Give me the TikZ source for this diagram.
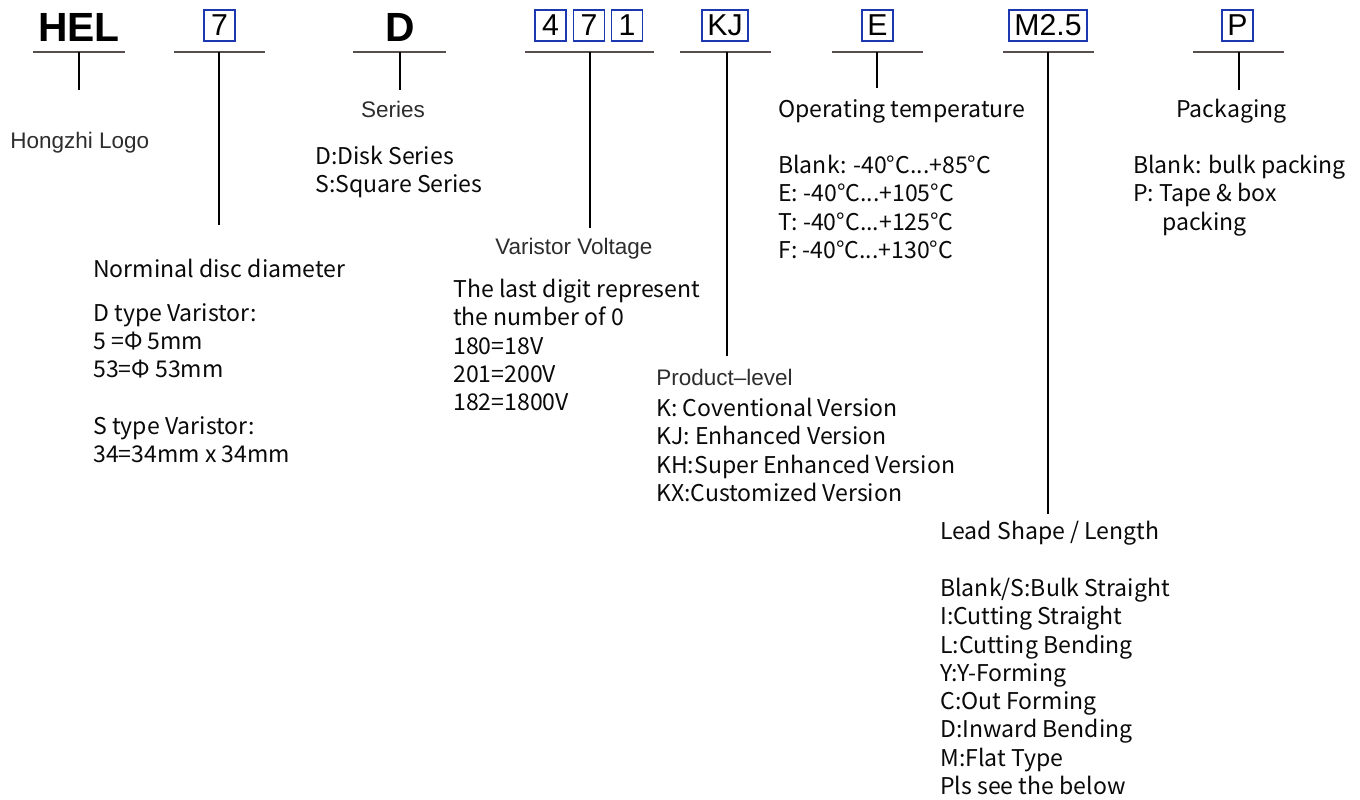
\documentclass[tikz,border=0pt]{standalone}
\usepackage{fontspec}
\setmainfont{Noto Sans CJK SC}
\newfontfamily\arialfont{Liberation Sans}
\usetikzlibrary{positioning}
\definecolor{cBox} {RGB}{28,56,176}
\definecolor{cRule}{RGB}{88,78,78}
\definecolor{cHead}{RGB}{45,45,45}
\definecolor{cBody}{RGB}{10,10,10}

\begin{document}
\begin{tikzpicture}[x=0.025cm, y=-0.025cm]

%% ── shared styles ─────────────────────────────────────────────────────────
\tikzset{
  code/.style={
    inner sep=0pt, font=\arialfont\fontsize{29}{32}\selectfont\bfseries
  },
  digit/.style={
    rectangle, draw=cBox, line width=1.35pt,
    minimum width=22pt, minimum height=22pt,
    inner sep=0pt, inner xsep=4pt,
    font=\arialfont\fontsize{21.5}{24}\selectfont
  },
  rule/.style={cRule, line width=1.4pt},
  stem/.style={black, line width=0.9pt},
  head/.style={inner sep=0pt, text=cHead, font=\arialfont\fontsize{16}{19}\selectfont},
  body/.style={inner sep=0pt, text=cBody, align=left, font=\fontsize{16.4}{20.1}\selectfont},
}

\fill[white] (0,0) rectangle (1360,800);
\useasboundingbox (0,0) rectangle (1360,800);

%% ── underline / stem grid ─────────────────────────────────────────────────
%  underline   y = 52
%  stems run down from the underline to the heading of each group
\def\uy{52}

%% ══════════════════════════════════════════════════════════════════════════
%% HEL  –  logo
%% ══════════════════════════════════════════════════════════════════════════
\node[code]                 (cHEL) at (79,27)   {HEL};
\coordinate (uHEL-l) at (33,\uy);  \coordinate (uHEL-r) at (125,\uy);
\coordinate (uHEL)   at (79,\uy);  \coordinate (sHEL)   at (79,90);
\node[head, anchor=north west] (tLogo) at (10,132) {Hongzhi Logo};

\draw[rule] (uHEL-l)--(uHEL-r);
\draw[stem] (uHEL)--(sHEL);

%% ══════════════════════════════════════════════════════════════════════════
%% 7  –  disc diameter
%% ══════════════════════════════════════════════════════════════════════════
\node[digit]                (cDia) at (219.5,25.5) {7};
\coordinate (uDia-l) at (174,\uy); \coordinate (uDia-r) at (265,\uy);
\coordinate (uDia)   at (219,\uy); \coordinate (sDia)   at (219,225);
\node[body, anchor=north west] (tDia) at (93,259) {Norminal disc diameter};
\node[body, anchor=north west] (bDia) at (93,303)
  {D type Varistor:\\5 =Φ 5mm\\53=Φ 53mm\\[20.1pt]S type Varistor:\\34=34mm x 34mm};

\draw[rule] (uDia-l)--(uDia-r);
\draw[stem] (uDia)--(sDia);

%% ══════════════════════════════════════════════════════════════════════════
%% D  –  series
%% ══════════════════════════════════════════════════════════════════════════
\node[code]                 (cSer) at (400,27)  {D};
\coordinate (uSer-l) at (353,\uy); \coordinate (uSer-r) at (446,\uy);
\coordinate (uSer)   at (400,\uy); \coordinate (sSer)   at (400,90);
\node[head, anchor=north]      (tSer) at (393,101) {Series};
\node[body, anchor=north west] (bSer) at (315,146) {D:Disk Series\\S:Square Series};

\draw[rule] (uSer-l)--(uSer-r);
\draw[stem] (uSer)--(sSer);

%% ══════════════════════════════════════════════════════════════════════════
%% 471  –  varistor voltage
%% ══════════════════════════════════════════════════════════════════════════
\node[digit]                (cV1) at (550.5,25.5) {4};
\node[digit]                (cV2) at (589,25.5)   {7};
\node[digit]                (cV3) at (627,25.5)   {1};
\coordinate (uVol-l) at (525,\uy); \coordinate (uVol-r) at (654,\uy);
\coordinate (uVol)   at (590,\uy); \coordinate (sVol)   at (590,228);
\node[head, anchor=north west] (tVol) at (495,238) {Varistor Voltage};
\node[body, anchor=north west] (bVol) at (453,279)
  {The last digit represent\\the number of 0\\180=18V\\201=200V\\182=1800V};

\draw[rule] (uVol-l)--(uVol-r);
\draw[stem] (uVol)--(sVol);

%% ══════════════════════════════════════════════════════════════════════════
%% KJ  –  product level
%% ══════════════════════════════════════════════════════════════════════════
\node[digit]                (cLev) at (725,25.5) {KJ};
\coordinate (uLev-l) at (680,\uy); \coordinate (uLev-r) at (771,\uy);
\coordinate (uLev)   at (727,\uy); \coordinate (sLev)   at (727,356);
\node[head, anchor=north west] (tLev) at (656,369) {Product–level};
\node[body, anchor=north west] (bLev) at (656,398)
  {K: Coventional Version\\KJ: Enhanced Version\\KH:Super Enhanced Version\\KX:Customized Version};

\draw[rule] (uLev-l)--(uLev-r);
\draw[stem] (uLev)--(sLev);

%% ══════════════════════════════════════════════════════════════════════════
%% E  –  operating temperature
%% ══════════════════════════════════════════════════════════════════════════
\node[digit]                (cTmp) at (877.5,25.5) {E};
\coordinate (uTmp-l) at (832,\uy); \coordinate (uTmp-r) at (923,\uy);
\coordinate (uTmp)   at (877,\uy); \coordinate (sTmp)   at (877,88);
\node[body, anchor=north west] (tTmp) at (778,99) {Operating temperature};
\node[body, anchor=north west] (bTmp) at (778,155)
  {Blank: -40°C...+85°C\\E: -40°C...+105°C\\T: -40°C...+125°C\\F: -40°C...+130°C};

\draw[rule] (uTmp-l)--(uTmp-r);
\draw[stem] (uTmp)--(sTmp);

%% ══════════════════════════════════════════════════════════════════════════
%% M2.5  –  lead shape / length
%% ══════════════════════════════════════════════════════════════════════════
\node[digit]                (cLed) at (1048,25.5) {M2.5};
\coordinate (uLed-l) at (1003,\uy); \coordinate (uLed-r) at (1094,\uy);
\coordinate (uLed)   at (1048,\uy); \coordinate (sLed)   at (1048,514);
\node[body, anchor=north west] (tLed) at (940,521) {Lead Shape / Length};
\node[body, anchor=north west] (bLed) at (940,578)
  {Blank/S:Bulk Straight\\I:Cutting Straight\\L:Cutting Bending\\Y:Y-Forming\\
   C:Out Forming\\D:Inward Bending\\M:Flat Type\\Pls see the below};

\draw[rule] (uLed-l)--(uLed-r);
\draw[stem] (uLed)--(sLed);

%% ══════════════════════════════════════════════════════════════════════════
%% P  –  packaging
%% ══════════════════════════════════════════════════════════════════════════
\node[digit]                (cPak) at (1237.5,25.5) {P};
\coordinate (uPak-l) at (1193,\uy); \coordinate (uPak-r) at (1284,\uy);
\coordinate (uPak)   at (1239,\uy); \coordinate (sPak)   at (1239,90);
\node[body, anchor=north west] (tPak) at (1176,99) {Packaging};
\node[body, anchor=north west] (bPak) at (1133,155)
  {Blank: bulk packing\\P: Tape \& box\\\hspace*{20.5pt}packing};

\draw[rule] (uPak-l)--(uPak-r);
\draw[stem] (uPak)--(sPak);

\end{tikzpicture}
\end{document}
